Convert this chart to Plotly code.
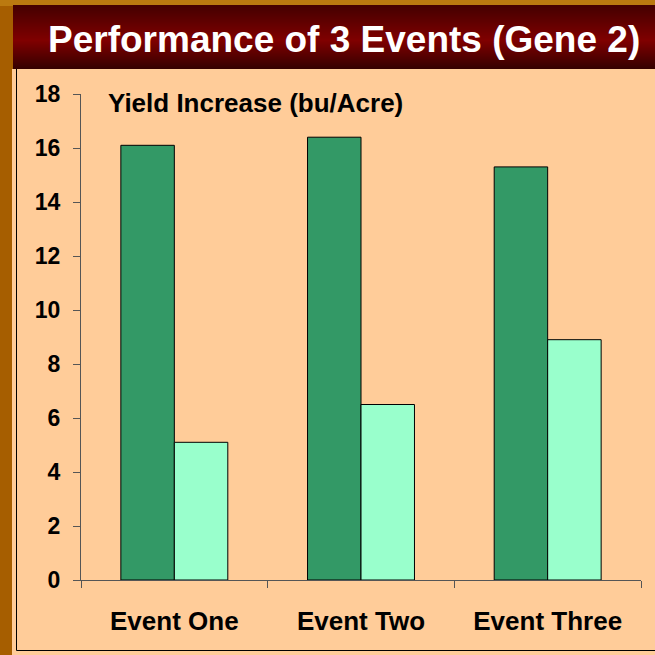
import plotly.graph_objects as go

# chart data
events = ["Event One", "Event Two", "Event Three"]
gene_event = [16.1, 16.4, 15.3]   # dark green bars
check_event = [5.1, 6.5, 8.9]     # light green bars
y_ticks = [0, 2, 4, 6, 8, 10, 12, 14, 16, 18]

W, H = 655, 655
L, R, T, B = 81, 14, 94, 75
PW, PH = W - L - R, H - T - B


def px_x(x):
    return (x - L) / PW


def px_y(y):
    return (H - B - y) / PH


FONT = "Arial, Liberation Sans, sans-serif"

fig = go.Figure()
fig.add_trace(go.Bar(x=events, y=gene_event, marker=dict(color="#339966", line=dict(color="#000000", width=1))))
fig.add_trace(go.Bar(x=events, y=check_event, marker=dict(color="#99ffcc", line=dict(color="#000000", width=1))))

shapes = []
# peach panel
shapes.append(dict(type="rect", xref="paper", yref="paper", layer="below",
                   x0=px_x(12), x1=px_x(660), y0=px_y(660), y1=px_y(69),
                   fillcolor="#ffcc99", line=dict(width=0)))
# panel border
shapes.append(dict(type="line", xref="paper", yref="paper", layer="below",
                   x0=px_x(16.5), x1=px_x(16.5), y0=px_y(69), y1=px_y(650.5),
                   line=dict(color="#000000", width=1)))
shapes.append(dict(type="line", xref="paper", yref="paper", layer="below",
                   x0=px_x(16.5), x1=px_x(660), y0=px_y(650.5), y1=px_y(650.5),
                   line=dict(color="#000000", width=1)))
# lighter band on top of the brown frame
shapes.append(dict(type="rect", xref="paper", yref="paper", layer="below",
                   x0=px_x(0), x1=px_x(660), y0=px_y(6), y1=px_y(0),
                   fillcolor="#bb7a10", line=dict(width=0)))

# title banner, vertical gradient built from thin strips
top, mid, bot = (0x45, 0x00, 0x00), (0x80, 0x00, 0x00), (0x33, 0x00, 0x00)
y_top, y_mid, y_bot = 5, 40, 69
for y in range(y_top, y_bot):
    if y < y_mid:
        f = (y - y_top) / (y_mid - y_top)
        c = [int(a + (b - a) * f) for a, b in zip(top, mid)]
    else:
        f = (y - y_mid) / (y_bot - y_mid)
        c = [int(a + (b - a) * f) for a, b in zip(mid, bot)]
    shapes.append(dict(type="rect", xref="paper", yref="paper", layer="below",
                       x0=px_x(13), x1=px_x(660), y0=px_y(y + 1), y1=px_y(y),
                       fillcolor="rgb(%d,%d,%d)" % tuple(c), line=dict(width=0)))

fig.update_layout(
    width=W, height=H,
    margin=dict(l=L, r=R, t=T, b=B, pad=0),
    paper_bgcolor="#a65e00",
    plot_bgcolor="rgba(0,0,0,0)",
    barmode="group", bargap=0.427, bargroupgap=0,
    showlegend=False,
    shapes=shapes,
    font=dict(family=FONT, color="#000000"),
    xaxis=dict(showline=True, linecolor="#555555", linewidth=1,
               ticks="outside", tickson="boundaries", ticklen=7, tickcolor="#555555",
               tickfont=dict(size=26, weight="bold"), ticklabelstandoff=18,
               showgrid=False, zeroline=False),
    yaxis=dict(range=[0, 18], tickvals=y_ticks, showline=True, linecolor="#555555", linewidth=1,
               ticks="outside", ticklen=7, tickcolor="#555555",
               tickfont=dict(size=23, weight="bold"), ticklabelstandoff=8,
               showgrid=False, zeroline=False),
    annotations=[
        dict(text="Performance of 3 Events (Gene 2)", xref="paper", yref="paper",
             x=px_x(46), y=px_y(40), xanchor="left", yanchor="middle", showarrow=False,
             font=dict(family=FONT, size=37, color="#ffffff", weight="bold")),
        dict(text="Yield Increase (bu/Acre)", xref="paper", yref="paper",
             x=px_x(106), y=px_y(103), xanchor="left", yanchor="middle", showarrow=False,
             font=dict(family=FONT, size=26, color="#000000", weight="bold")),
    ],
)

fig.write_html("out.html", config={"displayModeBar": False},
               post_script="document.body.style.margin='0';")
